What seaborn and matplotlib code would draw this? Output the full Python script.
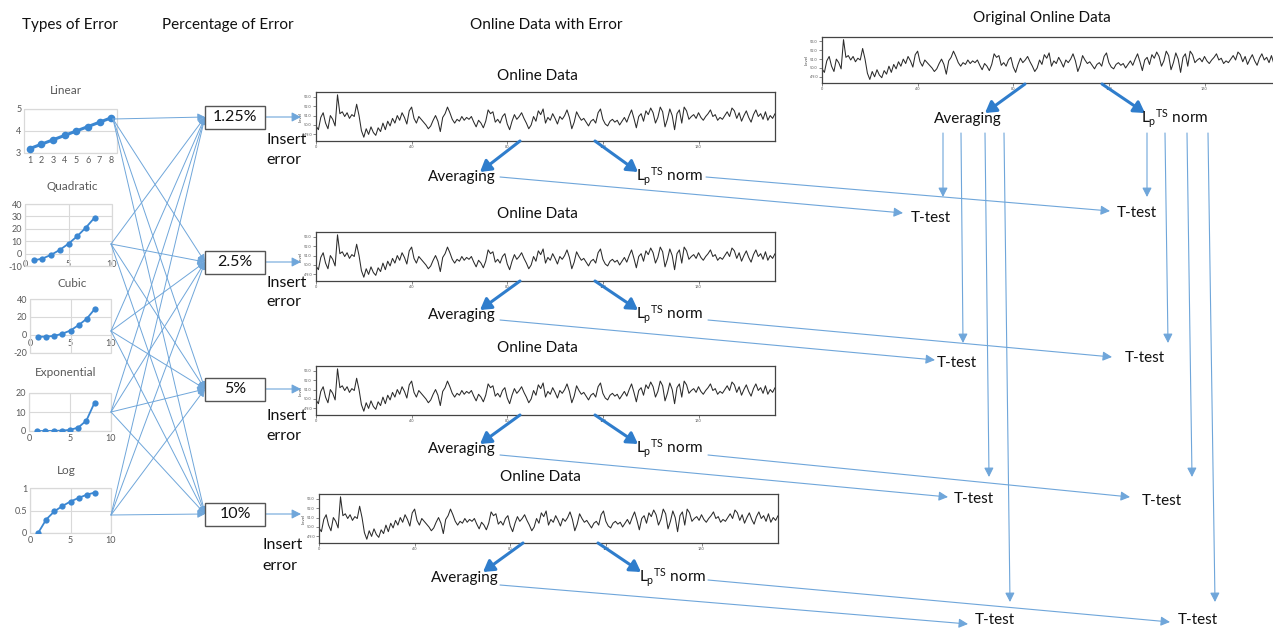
import numpy as np
import pandas as pd
import matplotlib
matplotlib.use("Agg")
import matplotlib.pyplot as plt
import seaborn as sns
from matplotlib.patches import Rectangle, FancyArrowPatch

# ---------------------------------------------------------------- data
error_types = ["Linear", "Quadratic", "Cubic", "Exponential", "Log"]
steps = [1, 2, 3, 4, 5, 6, 7, 8]
linear_err = [3.2, 3.4, 3.6, 3.8, 4.0, 4.2, 4.4, 4.6]
quadratic_err = [-5.5, -4.0, -1.0, 3.0, 8.0, 14.0, 21.0, 29.0]
cubic_err = [-2.0, -1.8, -1.0, 1.5, 5.0, 11.0, 18.0, 29.0]
exponential_err = [0.0, 0.0, 0.1, 0.2, 0.6, 1.8, 5.5, 15.0]
log_err = [0.0, 0.30, 0.48, 0.60, 0.70, 0.78, 0.85, 0.90]
error_pcts = ["1.25%", "2.5%", "5%", "10%"]

level = [
    49.9, 49.5, 50.8, 51.3, 50.2, 49.6, 51.0, 50.6, 49.9, 53.2, 51.2, 51.4, 50.9, 51.3, 50.7, 51.1, 50.9, 52.2, 51.0, 49.4,
    48.7, 49.6, 49.0, 49.8, 49.2, 48.9, 49.7, 49.3, 50.2, 49.5, 50.4, 49.9, 50.7, 50.2, 51.0, 50.5, 51.3, 50.8, 50.1, 51.5,
    51.9, 50.7, 50.2, 50.9, 50.6, 50.3, 50.0, 49.6, 49.9, 50.5, 51.0, 50.4, 49.3, 50.8, 51.2, 51.9, 51.3, 50.6, 50.2, 50.6,
    50.4, 50.9, 50.5, 50.8, 50.6, 50.9, 50.3, 49.8, 50.5, 50.2, 49.7, 50.4, 51.6, 51.2, 51.4, 50.3, 50.6, 50.2, 50.9, 51.2,
    50.1, 49.5, 50.4, 51.1, 50.6, 50.9, 51.3, 50.7, 50.2, 49.6, 50.0, 50.9, 50.4, 51.5, 51.1, 51.7, 50.2, 50.8, 50.5, 51.2,
    50.7, 50.1, 50.9, 50.6, 51.0, 51.6, 50.8, 49.6, 50.3, 51.4, 50.9, 50.5, 50.7, 50.3, 49.9, 50.4, 50.6, 50.2, 51.3, 51.7,
    50.6, 50.1, 49.9, 50.4, 50.6, 50.3, 50.5, 50.0, 50.4, 50.8, 50.3, 51.0, 51.6, 50.7, 49.7, 50.9, 51.2, 50.4, 51.5, 51.1,
    51.8, 51.3, 50.2, 50.8, 51.9, 51.4, 49.8, 50.6, 51.7, 51.0, 49.5, 51.2, 51.6, 50.2, 51.9, 51.5, 50.6, 50.9, 51.1, 50.7,
    51.3, 50.8, 50.5, 50.9, 51.2, 51.6, 50.9, 51.1, 50.5, 50.8, 50.6, 51.0, 51.4, 50.9, 51.8, 51.5, 50.7, 51.3, 50.4, 51.0,
    51.5, 50.8, 50.3, 51.1, 51.6, 50.9, 51.2, 50.6, 51.4, 50.5, 51.0, 50.7, 51.2,
]
level_ticks = [49, 50, 51, 52, 53]
time_ticks = [0, 40, 80, 120, 160]

# ---------------------------------------------------------------- style
sns.set_theme(style="white")
plt.rcParams["font.family"] = ["Lato", "DejaVu Sans"]
plt.rcParams["mathtext.fontset"] = "custom"
plt.rcParams["mathtext.rm"] = "Lato"
plt.rcParams["mathtext.it"] = "Lato:italic"
plt.rcParams["mathtext.bf"] = "Lato:bold"

BLUE = "#3B87D2"
THIN = "#6FA6DA"
THICK = "#2F7DCC"
GRID = "#D9D9D9"
TXT = "#595959"
INK = "#111111"

W, H = 1273, 628
fig = plt.figure(figsize=(W / 100, H / 100), dpi=100)


def px_axes(x0, y0, x1, y1, z=1):
    return fig.add_axes([x0 / W, 1 - y1 / H, (x1 - x0) / W, (y1 - y0) / H], zorder=z)


# ---------------------------------------------------------------- error shape charts
def shape_chart(box, values, xlim, ylim, yticks, xticks, title, title_xy,
                xaxis_at=None, vgrid=True, lw=1.3, ms=4.5, xpad=2):
    ax = px_axes(*box)
    df = pd.DataFrame({"step": steps, "value": values})
    sns.lineplot(data=df, x="step", y="value", ax=ax, color=BLUE, marker="o",
                 markersize=ms, markeredgewidth=0, linewidth=lw, zorder=3)
    ax.set_xlim(*xlim)
    ax.set_ylim(*ylim)
    ax.set_xticks(xticks)
    ax.set_yticks(yticks)
    ax.set_xticklabels([f"{v:g}" for v in xticks])
    ax.set_yticklabels([f"{v:g}" for v in yticks])
    for v in yticks:
        ax.axhline(v, color=GRID, lw=0.8, zorder=1)
    if vgrid:
        for v in xticks:
            ax.axvline(v, color=GRID, lw=0.8, zorder=1)
    for s in ax.spines.values():
        s.set_edgecolor("none")
    if xaxis_at is not None:
        ax.spines["bottom"].set_position(("data", xaxis_at))
    ax.add_patch(Rectangle((0, 0), 1, 1, transform=ax.transAxes, fill=False,
                           edgecolor=GRID, lw=0.9, clip_on=False, zorder=2))
    ax.tick_params(length=0, labelsize=6.5, labelcolor=TXT, pad=2)
    ax.tick_params(axis="x", pad=xpad)
    ax.set_xlabel("")
    ax.set_ylabel("")
    fig.text(title_xy[0] / W, 1 - title_xy[1] / H, title, ha="center", va="center",
             fontsize=8.5, color=TXT)
    return ax


shape_chart((24, 109, 117, 153), linear_err, (0.5, 8.5), (3, 5), [3, 4, 5], steps,
            error_types[0], (66, 90), vgrid=False, lw=2.2, ms=5.5)
shape_chart((25, 204, 112, 266), quadratic_err, (0, 10), (-10, 40),
            [-10, 0, 10, 20, 30, 40], [0, 5, 10], error_types[1], (72, 186), xpad=-4)
shape_chart((30, 299, 111, 353), cubic_err, (0, 10), (-20, 40),
            [-20, 0, 20, 40], [0, 5, 10], error_types[2], (72, 283), xaxis_at=0, xpad=3)
shape_chart((29, 393, 111, 431), exponential_err, (0, 10), (0, 20),
            [0, 10, 20], [0, 5, 10], error_types[3], (66, 373))
shape_chart((30, 488, 111, 533), log_err, (0, 10), (0, 1),
            [0, 0.5, 1], [0, 5, 10], error_types[4], (66, 470))


# ---------------------------------------------------------------- online data panels
def series_panel(box):
    ax = px_axes(*box)
    df = pd.DataFrame({"t": np.arange(len(level)), "Level": level})
    sns.lineplot(data=df, x="t", y="Level", ax=ax, color="#2B2B2B", linewidth=0.75)
    ax.set_xlim(0, len(level) - 1)
    ax.set_ylim(48.3, 53.5)
    ax.set_xticks(time_ticks)
    ax.set_yticks(level_ticks)
    ax.set_xticklabels([f"{v:g}" for v in time_ticks])
    ax.set_yticklabels([f"{v:.1f}" for v in level_ticks])
    ax.tick_params(bottom=True, left=True, length=2, width=0.5, color="#555555",
                   labelsize=2.8, labelcolor="#555555", pad=1)
    ax.set_xlabel("")
    ax.set_ylabel("Level", fontsize=3.2, labelpad=1, color="#444444")
    for s in ax.spines.values():
        s.set_edgecolor("#444444")
        s.set_linewidth(0.9)
    return ax


panel_boxes = [(316, 92, 775, 141), (316, 232, 775, 281),
               (316, 366, 775, 415), (319, 494, 778, 543)]
for b in panel_boxes:
    series_panel(b)
series_panel((822, 37, 1281, 83))

# ---------------------------------------------------------------- overlay: text and arrows
ov = fig.add_axes([0, 0, 1, 1], zorder=20)
ov.set_xlim(0, W)
ov.set_ylim(H, 0)
ov.axis("off")


def label(x, y, s, size=11, ha="center", color=INK):
    ov.text(x, y, s, fontsize=size, ha=ha, va="center", color=color, zorder=10)


def arrow(p0, p1, lw=0.8, color=THIN, style="-|>,head_length=0.55,head_width=0.28", ms=10):
    ov.add_patch(FancyArrowPatch(p0, p1, arrowstyle=style, mutation_scale=ms, lw=lw,
                                 color=color, shrinkA=0, shrinkB=0, zorder=5))


def thick(p0, p1):
    arrow(p0, p1, lw=2.2, color=THICK, style="-|>,head_length=0.5,head_width=0.3", ms=13)


# column headers
label(70, 25, "Types of Error")
label(228, 25, "Percentage of Error")
label(546, 25, "Online Data with Error")
label(1042, 18, "Original Online Data")

# percentage boxes and the lines fanning into them
sources = [(113, 119), (111, 244), (111, 331), (111, 412), (111, 515)]
box_rows = [117, 262, 389, 514]
for yb in box_rows:
    for s in sources:
        arrow(s, (205, yb), lw=0.7, ms=8)
for pct, yb in zip(error_pcts, box_rows):
    ov.add_patch(Rectangle((205, yb - 11.5), 60, 23, fill=True, facecolor="white",
                           edgecolor="#555555", lw=1.0, zorder=6))
    label(235, yb, pct, size=11.5)
    arrow((265, yb), (301, yb), lw=0.8, ms=10)

insert_rows = [(266, 140, 160), (266, 283, 302), (266, 416, 436), (262, 545, 566)]
for x, y1, y2 in insert_rows:
    label(x, y1, "Insert", size=11.5, ha="left")
    label(x, y2, "error", size=11.5, ha="left")

# titles over the error panels
for xt, yt in [(537, 76), (537, 214), (537, 348), (540, 477)]:
    label(xt, yt, "Online Data")

LP = r"$\mathrm{L_p{}^{TS}}$ norm"

# averaging / norm branches under each panel
branch = [  # (avg from, avg to, lp from, lp to, text y, avg x, lp x)
    ((520, 141), (480, 172), (595, 141), (638, 172), 177, 462, 670),
    ((520, 281), (480, 310), (595, 281), (638, 310), 315, 462, 670),
    ((520, 415), (480, 444), (595, 415), (638, 444), 449, 462, 670),
    ((523, 543), (483, 572), (598, 543), (641, 572), 578, 465, 673),
]
for a0, a1, l0, l1, ty, ax_, lx in branch:
    thick(a0, a1)
    thick(l0, l1)
    label(ax_, ty, "Averaging")
    label(lx, ty, LP)

# original data branch
thick((1025, 84), (985, 113))
thick((1102, 84), (1145, 113))
label(968, 119, "Averaging")
label(1175, 119, LP)

# lines into the T-tests
ttests = [
    ((500, 177), (903, 213), (931, 218), (706, 177), (1110, 211), (1137, 213)),
    ((500, 320), (935, 360), (957, 363), (708, 320), (1112, 357), (1145, 358)),
    ((500, 455), (948, 497), (974, 499), (708, 455), (1130, 497), (1162, 501)),
    ((500, 585), (968, 624), (995, 620), (708, 580), (1170, 622), (1198, 620)),
]
for a0, a1, at, l0, l1, lt in ttests:
    arrow(a0, a1)
    arrow(l0, l1)
    label(at[0], at[1], "T-test")
    label(lt[0], lt[1], "T-test")

# vertical drops from the original data branches
avg_drops = [((943, 133), (943, 197)), ((961, 133), (963, 343)),
             ((985, 133), (989, 477)), ((1004, 133), (1010, 602))]
lp_drops = [((1147, 133), (1147, 197)), ((1165, 133), (1168, 343)),
            ((1187, 133), (1192, 477)), ((1208, 133), (1215, 602))]
for p0, p1 in avg_drops + lp_drops:
    arrow(p0, p1)

fig.savefig("out.png", dpi=100)
